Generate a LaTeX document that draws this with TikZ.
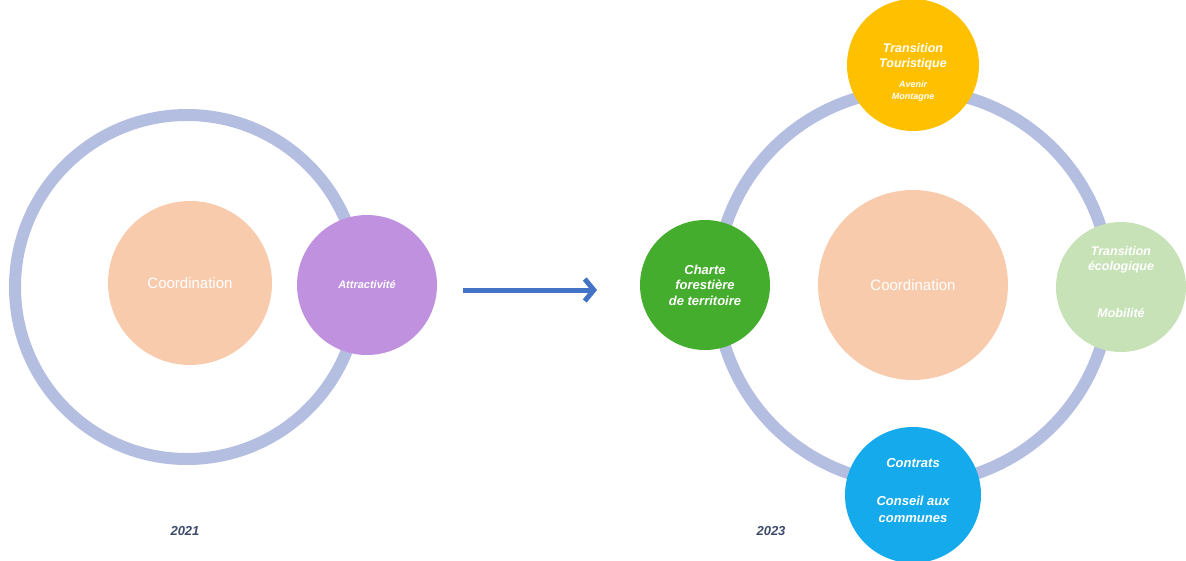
\documentclass[tikz,border=0pt]{standalone}
\usepackage{fontspec}
\setmainfont{Liberation Sans}
\usetikzlibrary{arrows.meta}
\definecolor{ringc}{HTML}{B4BEE0}
\definecolor{salmon}{HTML}{F8CBAD}
\definecolor{purp}{HTML}{BF91DF}
\definecolor{yel}{HTML}{FFC000}
\definecolor{grn}{HTML}{45AD2E}
\definecolor{lgrn}{HTML}{C8E2B8}
\definecolor{blu}{HTML}{14AAEB}
\definecolor{arrc}{HTML}{4472C4}
\definecolor{yearc}{HTML}{3B4A6B}
\tikzset{
  ring/.style={draw=ringc, line width=12pt},
  bubble/.style={circle, inner sep=0pt, text=white, font=\bfseries\itshape, align=center},
  txt/.style={text=white, align=center, inner sep=0pt},
  coord/.style={circle, fill=salmon, inner sep=0pt, text=white, font=\fontsize{15}{18}\selectfont},
  year/.style={text=yearc, font=\fontsize{13}{15}\selectfont\bfseries\itshape}
}
\begin{document}
\begin{tikzpicture}[x=1pt,y=-1pt]
\useasboundingbox (0,0) rectangle (1186,560);
% left
\draw[ring] (187,287) circle[radius=172];
\node[coord, minimum size=164pt] (c1) at (190,283) {Coordination};
\node[bubble, fill=purp, minimum size=140pt, font=\fontsize{11}{13}\selectfont\bfseries\itshape] (attr) at (367,285) {Attractivité};
% arrow
\coordinate (a1) at (463,290);
\coordinate (a2) at (597,290);
\draw[arrc, line width=5pt, -{Straight Barb[length=9pt,width=22pt,line width=5pt]}] (a1) -- (a2);
% right
\draw[ring] (913,287) circle[radius=197];
\node[coord, minimum size=190pt] (c2) at (913,285) {Coordination};
\node[bubble, fill=yel, minimum size=132pt] (tt) at (913,65) {};
\node[txt, font=\fontsize{12.5}{15}\selectfont\bfseries\itshape] (tt1) at (913,57) {Transition\\Touristique};
\node[txt, font=\fontsize{9}{12}\selectfont\bfseries\itshape] (tt2) at (913,91) {Avenir\\Montagne};
\node[bubble, fill=grn, minimum size=130pt, font=\fontsize{13}{15.5}\selectfont\bfseries\itshape] (ch) at (705,285) {Charte\\forestière\\de territoire};
\node[bubble, fill=lgrn, minimum size=130pt] (te) at (1121,287) {};
\node[txt, font=\fontsize{12.5}{15}\selectfont\bfseries\itshape] (te1) at (1121,260) {Transition\\écologique};
\node[txt, font=\fontsize{12.5}{15}\selectfont\bfseries\itshape] (te2) at (1121,313) {Mobilité};
\node[bubble, fill=blu, minimum size=136pt] (ct) at (913,495) {};
\node[txt, font=\fontsize{13}{15.5}\selectfont\bfseries\itshape] (ct1) at (913,463) {Contrats};
\node[txt, font=\fontsize{13}{17}\selectfont\bfseries\itshape] (ct2) at (913,509) {Conseil aux\\communes};
% years
\node[year] (y1) at (185,531) {2021};
\node[year] (y2) at (771,531) {2023};
\end{tikzpicture}
\end{document}
